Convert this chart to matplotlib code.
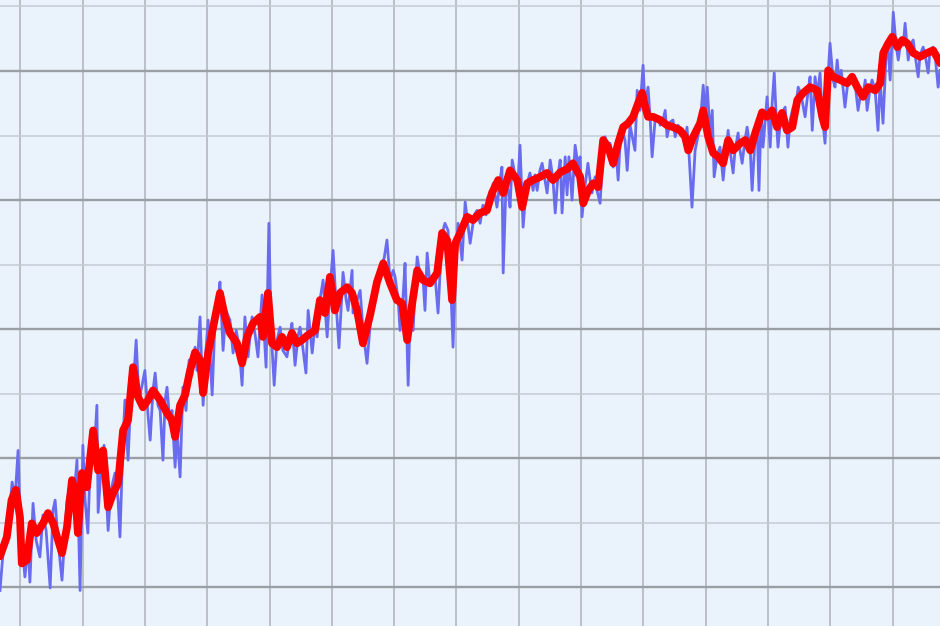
import matplotlib.pyplot as plt
import numpy as np

# raw daily series (blue) - day index, price
blue_day = [0.0, 1.3, 2.6, 3.9, 4.8, 5.8, 6.4, 7.4, 8.0, 9.0, 9.6, 10.6, 11.6, 12.8, 13.8, 14.8,
            16.1, 17.0, 17.7, 18.6, 19.9, 20.9, 21.5, 22.5, 23.4, 24.7, 25.7, 26.6, 27.3, 28.2,
            29.2, 30.2, 31.1, 31.5, 32.4, 33.4, 34.7, 35.6, 36.9, 37.9, 38.5, 39.5, 40.1, 41.1,
            42.1, 43.0, 43.7, 44.6, 45.6, 46.5, 47.5, 48.2, 49.1, 49.8, 50.7, 51.4, 52.3, 53.0,
            53.6, 54.6, 55.2, 56.2, 56.8, 57.8, 58.7, 59.7, 60.7, 61.6, 62.6, 63.2, 64.2, 65.2,
            66.1, 66.8, 68.1, 69.0, 70.0, 70.6, 71.6, 72.5, 73.8, 74.8, 75.8, 76.7, 77.7, 78.6,
            79.6, 80.9, 81.9, 82.8, 84.1, 85.4, 86.3, 87.0, 88.0, 88.9, 89.9, 90.8, 92.1, 93.1,
            93.7, 94.7, 95.7, 96.3, 97.3, 98.2, 98.9, 100.2, 101.1, 101.8, 102.7, 103.7, 105.0,
            105.9, 106.9, 107.9, 108.8, 110.1, 111.1, 111.7, 113.0, 113.3, 114.6, 115.6, 116.5,
            117.8, 118.8, 120.1, 121.0, 122.3, 123.3, 124.2, 125.2, 126.2, 126.8, 127.8, 128.4,
            129.4, 130.0, 131.0, 131.6, 132.6, 133.2, 133.9, 134.8, 135.8, 136.4, 137.1, 138.0,
            139.6, 140.6, 141.6, 142.2, 142.8, 143.8, 144.5, 145.4, 146.4, 147.0, 148.3, 149.3,
            150.2, 150.9, 152.2, 153.1, 154.1, 155.0, 156.0, 156.6, 157.6, 158.3, 158.9, 159.5,
            160.5, 161.1, 161.5, 162.4, 163.1, 163.7, 164.4, 165.3, 166.3, 166.9, 167.9, 168.8,
            169.5, 170.1, 171.1, 171.7, 172.4, 173.3, 174.0, 174.9, 175.6, 176.6, 177.5, 178.2,
            179.1, 179.8, 180.4, 181.4, 182.0, 182.6, 183.6, 184.6, 185.5, 186.2, 186.8, 187.8,
            188.7, 189.4, 190.0, 191.0, 191.6, 192.6, 193.6, 194.2, 195.2, 195.8, 196.8, 197.7,
            198.4, 199.0, 199.7, 200.6, 201.3, 202.2, 203.8, 204.5, 205.4, 206.4, 207.0, 208.0,
            208.7, 209.3, 210.3, 211.2, 211.9, 212.8, 213.5, 214.1, 215.1, 216.0, 216.7, 217.6,
            218.9, 219.9, 220.5, 221.2, 222.1, 223.1, 224.7, 225.7, 226.3, 227.0, 227.9, 228.6,
            229.2, 230.2, 231.1, 232.1, 232.7, 233.7, 234.3, 235.3, 235.9, 236.9, 237.5, 238.2,
            239.1, 239.8, 240.8, 241.4, 242.4, 243.0, 243.6, 244.3, 244.9, 246.2, 247.2, 247.8,
            248.5, 249.1, 249.7, 250.7, 252.0, 252.9, 253.6, 254.6, 255.2, 256.2, 257.1, 258.4,
            259.4, 260.0, 260.7, 261.6, 262.3, 263.2, 263.9, 264.8, 265.8, 266.4, 267.4, 268.0,
            268.7, 269.3, 270.0, 271.2, 272.2, 273.2, 274.5, 275.4, 276.4, 277.0, 277.7, 278.3,
            279.3, 279.9, 280.9, 281.8, 282.5, 283.4, 284.4, 285.0, 285.7, 286.7, 287.6, 288.3,
            289.2, 289.9, 290.5, 291.5, 292.1, 293.1, 293.7, 294.7, 295.3, 296.3, 296.9, 297.9,
            298.5, 299.5, 300.1, 301.1, 301.7]
blue_price = [99.5, 107.3, 109.6, 116.3, 113.5, 121.2, 111.9, 105.0, 101.6, 106.5, 100.8, 113.0,
              107.3, 104.7, 111.2, 108.8, 99.9, 111.9, 113.5, 107.3, 101.1, 108.8, 113.5, 115.8,
              111.9, 119.7, 99.5, 122.0, 113.5, 108.4, 122.8, 120.5, 128.2, 111.6, 118.1, 122.0,
              108.8, 115.0, 117.7, 113.5, 107.8, 122.8, 129.0, 119.7, 130.5, 132.9, 138.3, 129.0,
              131.3, 133.6, 126.7, 122.8, 130.5, 133.2, 128.2, 127.4, 119.7, 129.0, 131.0, 125.1,
              127.4, 118.6, 124.3, 117.1, 131.0, 127.4, 135.2, 132.9, 137.2, 133.6, 141.9, 128.2,
              136.7, 141.4, 129.8, 141.4, 144.5, 147.3, 136.7, 142.9, 141.4, 136.3, 139.8, 137.5,
              131.3, 141.9, 135.7, 141.9, 139.1, 135.7, 145.3, 134.1, 156.4, 139.8, 131.3, 138.3,
              140.3, 136.7, 135.7, 139.1, 140.9, 134.4, 139.1, 140.3, 136.7, 133.2, 142.9, 136.3,
              140.6, 138.8, 144.5, 147.6, 138.8, 146.0, 152.2, 143.7, 137.1, 148.8, 144.5, 142.9,
              149.1, 142.5, 144.5, 146.0, 139.8, 134.7, 140.6, 144.5, 146.8, 149.9, 151.0, 153.8,
              147.6, 149.1, 148.1, 144.5, 139.8, 145.3, 150.2, 131.3, 141.4, 139.8, 146.0, 151.2,
              148.4, 147.6, 142.9, 151.8, 146.8, 148.4, 142.5, 152.2, 155.3, 156.4, 155.3, 149.1,
              137.2, 152.2, 156.4, 150.7, 159.7, 156.1, 153.3, 157.7, 158.4, 156.4, 159.2, 157.7,
              160.5, 160.8, 162.6, 160.8, 158.9, 163.1, 165.1, 148.7, 162.3, 161.5, 158.9, 166.2,
              163.9, 163.1, 168.5, 155.8, 161.5, 163.1, 164.2, 161.5, 163.9, 161.5, 164.6, 165.7,
              163.1, 161.1, 166.2, 163.1, 158.0, 163.9, 166.2, 158.0, 166.7, 160.8, 166.7, 160.0,
              168.5, 165.4, 166.7, 157.4, 162.3, 165.7, 163.1, 161.1, 163.6, 161.5, 159.5, 167.7,
              169.8, 167.7, 168.8, 165.1, 167.7, 163.1, 168.5, 170.8, 169.3, 164.6, 171.6, 167.7,
              177.0, 173.9, 180.9, 174.7, 177.5, 172.4, 166.7, 172.7, 172.9, 171.6, 172.4, 173.9,
              169.8, 172.1, 172.4, 169.8, 171.6, 170.8, 169.3, 171.3, 166.7, 158.9, 167.7, 171.6,
              177.8, 173.2, 177.5, 170.1, 173.9, 163.6, 167.0, 168.2, 163.1, 166.2, 170.8, 167.7,
              164.2, 167.7, 170.4, 167.7, 165.7, 169.3, 171.3, 167.7, 161.5, 170.1, 171.6, 161.5,
              173.6, 168.2, 176.0, 168.2, 174.7, 179.7, 173.2, 168.2, 173.2, 174.4, 168.2, 172.4,
              174.4, 173.9, 177.5, 176.3, 172.9, 177.0, 179.1, 170.8, 179.1, 176.3, 179.7, 173.2,
              168.8, 179.4, 184.3, 178.6, 177.5, 181.7, 178.6, 180.1, 174.4, 178.6, 178.6, 177.8,
              173.9, 177.0, 176.3, 178.6, 173.9, 177.4, 178.6, 177.0, 170.8, 178.6, 171.9, 182.5,
              184.0, 178.6, 189.1, 184.0, 181.7, 184.8, 184.0, 187.4, 181.7, 184.0, 184.8, 182.5,
              179.1, 182.5, 183.7, 182.5, 179.7, 183.2, 183.7, 182.5, 177.5, 180.1]

# smoothed series (red)
red_day = [0.0, 2.2, 3.7, 5.1, 6.4, 7.0, 8.6, 10.2, 11.8, 13.8, 15.4, 17.1, 18.3, 19.9, 21.5,
           23.1, 24.1, 25.0, 26.3, 27.9, 29.9, 31.5, 33.1, 34.7, 36.3, 37.9, 39.5, 41.1, 42.7,
           44.3, 45.9, 47.5, 49.1, 51.4, 53.6, 55.2, 56.2, 57.8, 59.4, 61.0, 62.6, 64.2, 65.2,
           66.8, 68.4, 70.6, 72.2, 73.8, 76.1, 77.7, 79.3, 81.2, 83.5, 84.4, 86.0, 87.3, 88.9,
           90.5, 92.1, 93.7, 95.3, 96.9, 98.9, 101.1, 102.7, 104.3, 105.9, 107.5, 109.1, 111.4,
           113.0, 114.6, 116.5, 118.8, 121.0, 123.0, 125.2, 127.4, 129.1, 130.7, 132.3, 133.9,
           135.8, 138.0, 140.3, 141.9, 143.5, 145.1, 146.1, 147.7, 149.9, 151.8, 154.1, 156.3,
           157.9, 159.9, 161.5, 163.7, 166.0, 167.6, 169.2, 171.1, 173.4, 175.6, 177.5, 179.8,
           182.0, 183.9, 186.2, 187.2, 188.8, 190.4, 192.0, 193.6, 195.2, 196.8, 198.4, 200.0,
           201.6, 203.2, 204.8, 206.1, 207.1, 208.0, 209.6, 211.9, 214.1, 216.0, 218.3, 219.9,
           220.9, 222.5, 224.7, 225.7, 227.3, 228.9, 230.5, 232.1, 233.7, 235.3, 237.6, 239.2,
           240.8, 242.4, 244.6, 246.2, 247.8, 249.4, 251.0, 252.6, 254.3, 255.9, 257.8, 260.0,
           262.3, 263.9, 264.8, 265.8, 267.4, 269.7, 271.9, 273.5, 275.1, 277.0, 278.7, 280.9,
           282.5, 283.5, 285.1, 286.4, 288.0, 289.6, 291.2, 293.1, 295.3, 297.6, 299.5, 301.8]
red_price = [104.8, 107.8, 113.5, 115.1, 110.9, 103.7, 104.2, 109.9, 108.4, 109.9, 111.5, 109.9,
             107.8, 105.3, 109.3, 116.6, 115.1, 108.4, 117.7, 115.5, 124.3, 118.1, 121.2, 112.4,
             114.6, 116.1, 124.3, 125.9, 134.1, 129.5, 127.9, 129.0, 130.5, 129.0, 127.0, 125.9,
             123.3, 128.2, 129.8, 133.6, 136.4, 135.2, 130.1, 136.3, 140.3, 145.6, 141.9, 139.4,
             137.8, 134.7, 138.8, 140.9, 141.9, 138.8, 145.6, 137.8, 137.2, 138.8, 137.2, 139.4,
             137.8, 138.3, 139.1, 139.8, 144.5, 142.5, 148.1, 142.9, 145.6, 146.5, 145.6, 142.9,
             137.8, 142.2, 147.3, 150.2, 147.1, 144.5, 144.0, 138.3, 144.0, 149.1, 147.6, 147.1,
             148.7, 154.9, 153.8, 144.5, 153.3, 154.9, 157.4, 156.9, 158.0, 158.4, 161.1, 163.1,
             161.1, 164.6, 163.1, 158.9, 162.6, 163.1, 163.6, 164.2, 163.1, 164.3, 164.8, 165.7,
             163.6, 159.5, 161.5, 162.6, 162.0, 169.3, 168.2, 165.7, 168.8, 171.3, 171.9, 172.9,
             175.0, 176.6, 174.4, 172.9, 172.9, 172.4, 171.6, 171.3, 170.8, 169.8, 167.7, 169.8,
             171.9, 173.9, 169.8, 167.3, 166.7, 165.7, 169.3, 167.7, 168.8, 169.3, 167.7, 170.4,
             173.6, 172.9, 173.9, 171.3, 173.5, 170.8, 171.3, 175.5, 176.6, 177.5, 177.0, 172.9,
             171.3, 180.1, 179.1, 178.6, 178.1, 179.1, 177.5, 176.0, 177.5, 177.0, 178.1, 182.8,
             184.3, 185.3, 183.7, 184.8, 184.3, 182.8, 182.2, 182.8, 183.2, 181.2]

fig = plt.figure(figsize=(9.4, 6.26), dpi=100)
ax = fig.add_axes([0, 0, 1, 1])
ax.set_facecolor("#eaf3fb")

ax.plot(blue_day, blue_price, color="#6a6cf0", lw=2.0)
ax.plot(red_day, red_price, color="#ff0000", lw=5.6,
        solid_joinstyle="round", solid_capstyle="round")

ax.set_xlim(0, 301.7)
ax.set_ylim(94.0, 191.0)
ax.set_xticks(np.arange(6.5, 302, 20))
ax.set_yticks(np.arange(100, 191, 20))
ax.set_yticks(np.arange(110, 191, 20), minor=True)
ax.xaxis.grid(True, color="#b2b7be", lw=1.2)
ax.yaxis.grid(True, which="major", color="#9a9fa6", lw=1.7)
ax.yaxis.grid(True, which="minor", color="#c6cbd2", lw=1.1)
ax.set_axisbelow(True)
ax.tick_params(which="both", length=0, labelbottom=False, labelleft=False)
for s in ax.spines.values():
    s.set_visible(False)

fig.savefig("out.png", dpi=100)
